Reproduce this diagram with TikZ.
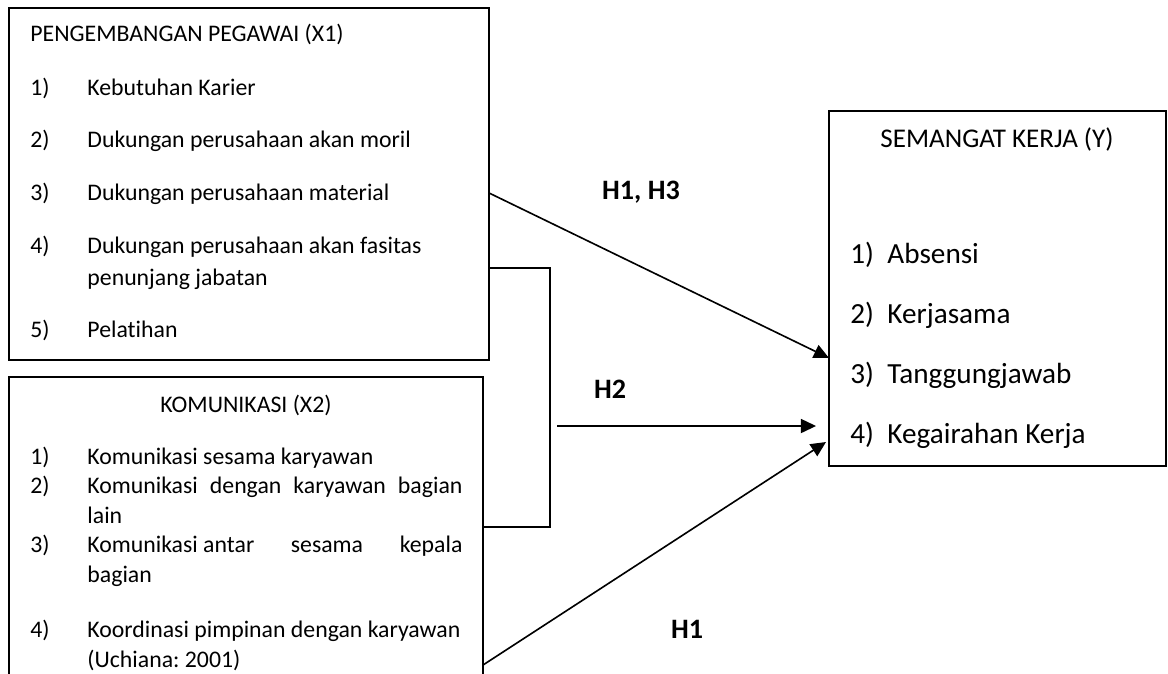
\documentclass[tikz,border=0pt]{standalone}
\usepackage{fontspec}
\setmainfont{Carlito}[Ligatures=NoCommon]
\usetikzlibrary{arrows.meta,calc}
\frenchspacing

\newlength{\px}
\setlength{\px}{0.4625pt}

\tikzstyle{kotak}=[draw,line width=0.75pt,anchor=north west,
    inner sep=0pt,outer sep=0pt]
\tikzstyle{teks}=[anchor=base west,inner sep=0pt,
    font=\fontsize{11}{13}\selectfont]
\tikzstyle{teks besar}=[anchor=base west,inner sep=0pt,
    font=\fontsize{13.5}{16}\selectfont]
\tikzstyle{judul}=[teks,anchor=base]
\tikzstyle{hipotesis}=[anchor=base,inner sep=0pt,
    font=\fontsize{13}{15}\selectfont\bfseries]
\tikzstyle{garis}=[line width=0.75pt]
\tikzstyle{panah}=[garis,->,>={Triangle[length=7pt,width=6.5pt]}]
\newcommand{\butir}[4]{
    \node[teks] (#1n) at (30,#2) {#3};
    \node[teks] (#1) at (87,#2) {#4};
}
\newcommand{\lanjutan}[3]{
    \node[teks] (#1) at (87,#2) {#3};
}
\newcommand{\indikator}[4]{
    \node[teks besar] (#1n) at (850,#2) {#3};
    \node[teks besar] (#1) at (887,#2) {#4};
}

\begin{document}
\begin{tikzpicture}[x=0.4625pt,y=-0.4625pt]
    \useasboundingbox (0,0) rectangle (1168,673);
    \node[kotak,minimum width=480*\px,minimum height=352*\px] (X1) at (9,8) {};
    \node[kotak,minimum width=474*\px,minimum height=400*\px] (X2) at (9,377) {};
    \node[kotak,minimum width=337*\px,minimum height=355*\px] (Y) at (829,111) {};
    %
    \node[teks] (X1judul) at (30,41) {PENGEMBANGAN PEGAWAI (X1)};
    \butir{x11}{95}{1)}{Kebutuhan Karier}
    \butir{x12}{147}{2)}{Dukungan perusahaan akan moril}
    \butir{x13}{200}{3)}{Dukungan perusahaan material}
    \butir{x14}{253}{4)}{Dukungan perusahaan akan fasitas}
    \lanjutan{x14b}{285}{penunjang jabatan}
    \butir{x15}{337}{5)}{Pelatihan}
    %
    \node[judul] (X2judul) at (246,412) {KOMUNIKASI (X2)};
    \butir{x21}{464}{1)}{Komunikasi sesama karyawan}
    \butir{x22}{493}{2)}{\makebox[375\px][s]{Komunikasi dengan karyawan bagian}}
    \lanjutan{x22b}{523}{lain}
    \butir{x23}{552}{3)}{\makebox[375\px]{Komunikasi antar\hfill sesama\hfill kepala}}
    \lanjutan{x23b}{582}{bagian}
    \butir{x24}{637}{4)}{Koordinasi pimpinan dengan karyawan}
    \lanjutan{x24b}{667}{(Uchiana: 2001)}
    %
    \node[judul,font=\fontsize{12.5}{15}\selectfont] (Yjudul) at (997,147) {SEMANGAT KERJA (Y)};
    \indikator{y1}{263}{1)}{Absensi}
    \indikator{y2}{323}{2)}{Kerjasama}
    \indikator{y3}{383}{3)}{Tanggungjawab}
    \indikator{y4}{443}{4)}{Kegairahan Kerja}
    %
    \coordinate (kurung1) at (550,268);
    \coordinate (kurung2) at (550,527);
    \draw[garis] (kurung1 -| X1.east) -- (kurung1) -- (kurung2) -- (kurung2 -| X2.east);
    %
    \coordinate (h2) at (557,426);
    \draw[panah] (X1.east |- x13n) -- ($(Y.west)+(0,69.5)$);
    \draw[panah,shorten >=6pt] (h2) -- (h2 -| Y.west);
    \draw[panah] ($(X2.north east)+(0,288)$) -- ($(Y.west)+(-3,153.5)$);
    %
    \node[hipotesis] (h13) at (641,199) {H1, H3};
    \node[hipotesis] (h2l) at (610,398) {H2};
    \node[hipotesis] (h1l) at (687,638) {H1};
\end{tikzpicture}
\end{document}
